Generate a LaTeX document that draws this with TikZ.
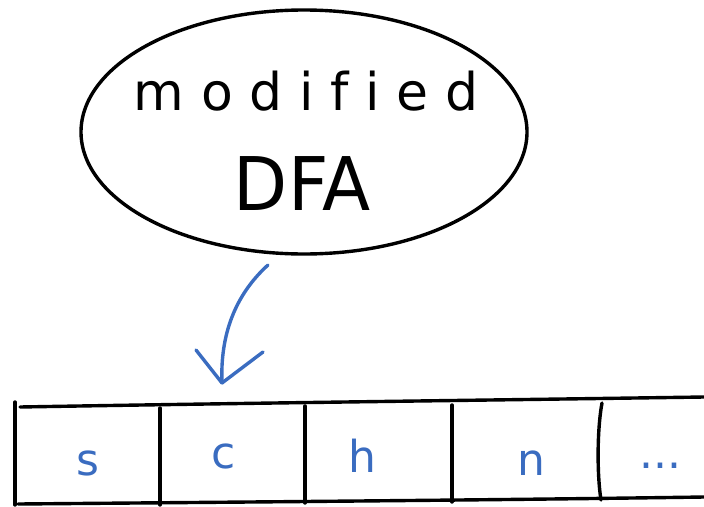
\documentclass[tikz,border=0pt]{standalone}
\usepackage{fontspec}
\usetikzlibrary{shapes.geometric}
\setmainfont[Ligatures=NoCommon]{DejaVu Sans}
\definecolor{penblue}{HTML}{3A6CC0}
\tikzset{
  ink/.style={line width=3.4pt, line cap=round, line join=round, black},
  blueink/.style={line width=3.4pt, line cap=round, line join=round, penblue},
  bigtxt/.style={anchor=base, inner sep=0pt},
  tapetxt/.style={anchor=base, inner sep=0pt, text=penblue, font=\fontsize{44}{48}\selectfont},
}
\begin{document}
\begin{tikzpicture}[x=1pt,y=-1pt]
\useasboundingbox (0,0) rectangle (704,506);
% ellipse
\node[ellipse, draw, ink, minimum width=446pt, minimum height=244pt, inner sep=0pt] (dfa) at (304,132) {};
\node[bigtxt, font={\fontsize{52}{56}\addfontfeature{LetterSpace=32}\selectfont}] (t1) at (306,110) {modified};
\node[bigtxt, font=\fontsize{74}{80}\selectfont, xscale=0.95] (t2) at (302,210) {DFA};
% tape
\draw[ink] (15,402) -- (15,505);
\draw[ink] (20,407) .. controls (250,403) and (500,400) .. (704,397);
\draw[ink] (18,504) .. controls (250,502) and (500,500) .. (704,497);
\draw[ink] (160,408) -- (160,505);
\draw[ink] (305,406) -- (305,503);
\draw[ink] (452,405) -- (452,502);
\draw[ink] (602,403) .. controls (597,430) and (597,475) .. (601,500);
\node[tapetxt] (c1) at (88,475) {s};
\node[tapetxt] (c2) at (224,468) {c};
\node[tapetxt] (c3) at (362,472) {h};
\node[tapetxt] (c4) at (531,475) {n};
\node[tapetxt] (c5) at (660,468) {...};
% arrow
\coordinate (astart) at (268,265);
\coordinate (atip) at (222,383);
\draw[blueink] (astart) .. controls (235,295) and (220,335) .. (atip);
\draw[blueink] (atip) ++(-26,-33) -- (atip) -- ++(41,-31);
\end{tikzpicture}
\end{document}
